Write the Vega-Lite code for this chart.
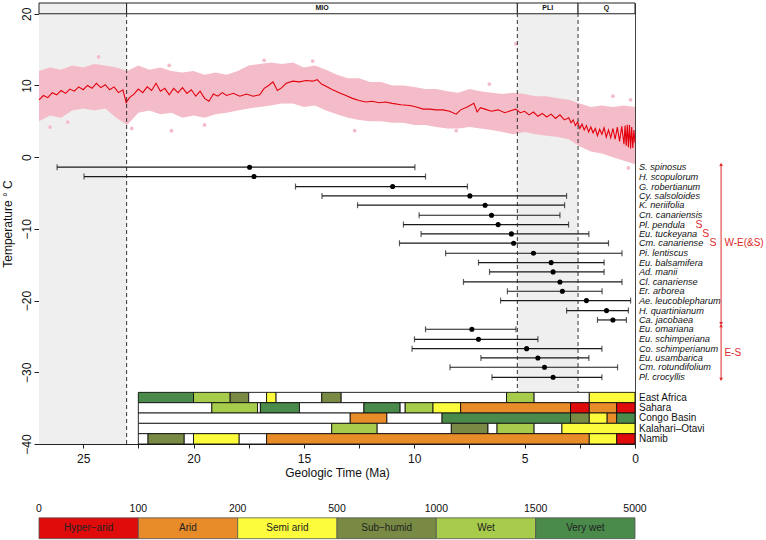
{
  "$schema": "https://vega.github.io/schema/vega-lite/v6.json",
  "padding": {"left": 1, "top": 2, "right": 0, "bottom": 2},
  "width": 596,
  "height": 441,
  "config": {
    "font": "Liberation Sans",
    "view": {"stroke": "#444"},
    "axis": {"grid": false, "labelOverlap": false}
  },
  "datasets": {
    "periods": [{"from": 27, "to": 23.03}, {"from": 5.33, "to": 2.58}],
    "header": [
      {"from": 27, "to": 23.03, "lab": "", "mid": 25.0, "shade": "g"},
      {"from": 23.03, "to": 5.33, "lab": "MIO", "mid": 14.18, "shade": "w"},
      {"from": 5.33, "to": 2.58, "lab": "PLI", "mid": 3.955, "shade": "w"},
      {"from": 2.58, "to": 0, "lab": "Q", "mid": 1.29, "shade": "w"}
    ],
    "epochb": [{"ma": 23.03}, {"ma": 5.33}, {"ma": 2.58}],
    "band": [
      {"ma": 27.0, "lo": 5.0, "hi": 12.0}, {"ma": 26.5, "lo": 5.8, "hi": 12.5}, {"ma": 26.0, "lo": 5.5, "hi": 12.2},
      {"ma": 25.5, "lo": 6.5, "hi": 12.8}, {"ma": 25.0, "lo": 6.8, "hi": 12.5}, {"ma": 24.5, "lo": 6.5, "hi": 13.0},
      {"ma": 24.0, "lo": 6.8, "hi": 12.8}, {"ma": 23.5, "lo": 5.5, "hi": 12.5}, {"ma": 23.0, "lo": 4.5, "hi": 12.0},
      {"ma": 22.5, "lo": 6.2, "hi": 12.8}, {"ma": 22.0, "lo": 6.5, "hi": 12.2}, {"ma": 21.5, "lo": 6.0, "hi": 12.5},
      {"ma": 21.0, "lo": 6.2, "hi": 12.0}, {"ma": 20.5, "lo": 5.5, "hi": 11.8}, {"ma": 20.0, "lo": 5.8, "hi": 12.0},
      {"ma": 19.5, "lo": 5.5, "hi": 11.5}, {"ma": 19.0, "lo": 6.0, "hi": 11.8}, {"ma": 18.5, "lo": 6.2, "hi": 11.5},
      {"ma": 18.0, "lo": 6.5, "hi": 12.0}, {"ma": 17.5, "lo": 6.8, "hi": 12.8}, {"ma": 17.0, "lo": 7.0, "hi": 13.0},
      {"ma": 16.5, "lo": 7.2, "hi": 13.2}, {"ma": 16.0, "lo": 7.5, "hi": 13.0}, {"ma": 15.5, "lo": 7.5, "hi": 13.2},
      {"ma": 15.0, "lo": 7.0, "hi": 12.5}, {"ma": 14.5, "lo": 7.2, "hi": 12.8}, {"ma": 14.0, "lo": 6.5, "hi": 12.2},
      {"ma": 13.5, "lo": 6.0, "hi": 11.5}, {"ma": 13.0, "lo": 5.5, "hi": 11.0}, {"ma": 12.5, "lo": 5.2, "hi": 11.0},
      {"ma": 12.0, "lo": 5.0, "hi": 10.5}, {"ma": 11.5, "lo": 5.0, "hi": 10.5}, {"ma": 11.0, "lo": 4.8, "hi": 10.0},
      {"ma": 10.5, "lo": 4.8, "hi": 10.0}, {"ma": 10.0, "lo": 4.5, "hi": 9.8}, {"ma": 9.5, "lo": 4.5, "hi": 9.5},
      {"ma": 9.0, "lo": 4.2, "hi": 9.5}, {"ma": 8.5, "lo": 4.0, "hi": 9.2}, {"ma": 8.0, "lo": 4.0, "hi": 9.0},
      {"ma": 7.5, "lo": 4.2, "hi": 9.5}, {"ma": 7.0, "lo": 4.0, "hi": 9.2}, {"ma": 6.5, "lo": 3.8, "hi": 9.0},
      {"ma": 6.0, "lo": 3.5, "hi": 8.8}, {"ma": 5.5, "lo": 3.2, "hi": 9.0}, {"ma": 5.0, "lo": 3.5, "hi": 8.8},
      {"ma": 4.5, "lo": 3.2, "hi": 8.5}, {"ma": 4.0, "lo": 3.0, "hi": 8.5}, {"ma": 3.5, "lo": 2.8, "hi": 8.2},
      {"ma": 3.0, "lo": 2.5, "hi": 8.0}, {"ma": 2.5, "lo": 1.5, "hi": 7.5}, {"ma": 2.0, "lo": 0.8, "hi": 7.0},
      {"ma": 1.5, "lo": 0.5, "hi": 7.2}, {"ma": 1.0, "lo": 0.0, "hi": 7.0}, {"ma": 0.5, "lo": -0.5, "hi": 7.2},
      {"ma": 0.0, "lo": -1.0, "hi": 7.0}
    ],
    "outliers": [
      {"ma": 24.3, "t": 14.0}, {"ma": 25.7, "t": 4.9}, {"ma": 21.1, "t": 12.8}, {"ma": 21.0, "t": 3.7},
      {"ma": 19.5, "t": 4.5}, {"ma": 14.6, "t": 13.4}, {"ma": 16.8, "t": 13.5}, {"ma": 12.7, "t": 3.7},
      {"ma": 8.1, "t": 3.7}, {"ma": 6.6, "t": 10.2}, {"ma": 5.4, "t": 15.8}, {"ma": 1.0, "t": 8.5},
      {"ma": 0.2, "t": 8.0}, {"ma": 0.3, "t": -1.5}, {"ma": 22.8, "t": 4.0}, {"ma": 26.5, "t": 4.2}
    ],
    "temp": [
      {"ma": 27.0, "t": 8.0}, {"ma": 26.8, "t": 8.6}, {"ma": 26.6, "t": 8.3}, {"ma": 26.4, "t": 9.0},
      {"ma": 26.2, "t": 8.7}, {"ma": 26.0, "t": 9.3}, {"ma": 25.8, "t": 8.9}, {"ma": 25.6, "t": 9.5},
      {"ma": 25.4, "t": 9.2}, {"ma": 25.2, "t": 9.8}, {"ma": 25.0, "t": 9.4}, {"ma": 24.8, "t": 10.0},
      {"ma": 24.6, "t": 9.6}, {"ma": 24.4, "t": 10.3}, {"ma": 24.2, "t": 9.7}, {"ma": 24.0, "t": 10.1},
      {"ma": 23.8, "t": 9.4}, {"ma": 23.6, "t": 9.8}, {"ma": 23.4, "t": 9.0}, {"ma": 23.2, "t": 9.4},
      {"ma": 23.05, "t": 7.6}, {"ma": 22.9, "t": 8.3}, {"ma": 22.7, "t": 8.8}, {"ma": 22.5, "t": 9.5},
      {"ma": 22.3, "t": 9.0}, {"ma": 22.1, "t": 9.8}, {"ma": 21.9, "t": 9.3}, {"ma": 21.7, "t": 10.3},
      {"ma": 21.5, "t": 9.2}, {"ma": 21.3, "t": 9.6}, {"ma": 21.1, "t": 8.7}, {"ma": 20.9, "t": 9.6},
      {"ma": 20.7, "t": 9.0}, {"ma": 20.5, "t": 9.7}, {"ma": 20.3, "t": 8.9}, {"ma": 20.1, "t": 9.4},
      {"ma": 19.9, "t": 8.5}, {"ma": 19.7, "t": 9.2}, {"ma": 19.5, "t": 8.2}, {"ma": 19.3, "t": 7.8},
      {"ma": 19.1, "t": 8.8}, {"ma": 18.9, "t": 8.5}, {"ma": 18.7, "t": 9.0}, {"ma": 18.5, "t": 8.6},
      {"ma": 18.2, "t": 8.9}, {"ma": 17.9, "t": 8.5}, {"ma": 17.6, "t": 8.8}, {"ma": 17.3, "t": 8.5},
      {"ma": 17.0, "t": 8.7}, {"ma": 16.8, "t": 9.6}, {"ma": 16.6, "t": 10.0}, {"ma": 16.4, "t": 10.5},
      {"ma": 16.2, "t": 9.3}, {"ma": 16.0, "t": 9.7}, {"ma": 15.8, "t": 10.3}, {"ma": 15.5, "t": 10.6},
      {"ma": 15.2, "t": 10.5}, {"ma": 14.9, "t": 10.7}, {"ma": 14.6, "t": 10.6}, {"ma": 14.4, "t": 10.8},
      {"ma": 14.2, "t": 10.2}, {"ma": 14.0, "t": 9.9}, {"ma": 13.7, "t": 9.4}, {"ma": 13.4, "t": 9.0},
      {"ma": 13.1, "t": 8.6}, {"ma": 12.8, "t": 8.2}, {"ma": 12.5, "t": 7.9}, {"ma": 12.2, "t": 7.7},
      {"ma": 11.9, "t": 7.8}, {"ma": 11.6, "t": 7.6}, {"ma": 11.3, "t": 7.7}, {"ma": 11.0, "t": 7.5},
      {"ma": 10.6, "t": 7.3}, {"ma": 10.2, "t": 7.2}, {"ma": 9.9, "t": 7.0}, {"ma": 9.6, "t": 6.7},
      {"ma": 9.3, "t": 6.7}, {"ma": 9.0, "t": 6.6}, {"ma": 8.7, "t": 6.6}, {"ma": 8.4, "t": 6.4},
      {"ma": 8.1, "t": 6.0}, {"ma": 7.9, "t": 6.6}, {"ma": 7.6, "t": 7.0}, {"ma": 7.3, "t": 7.5},
      {"ma": 7.15, "t": 6.3}, {"ma": 7.0, "t": 6.9}, {"ma": 6.8, "t": 6.7}, {"ma": 6.5, "t": 6.4},
      {"ma": 6.2, "t": 6.6}, {"ma": 5.9, "t": 6.2}, {"ma": 5.6, "t": 6.5}, {"ma": 5.4, "t": 6.7},
      {"ma": 5.2, "t": 6.2}, {"ma": 5.0, "t": 6.4}, {"ma": 4.8, "t": 5.9}, {"ma": 4.6, "t": 6.3},
      {"ma": 4.4, "t": 5.7}, {"ma": 4.2, "t": 6.1}, {"ma": 4.0, "t": 5.6}, {"ma": 3.8, "t": 6.0},
      {"ma": 3.6, "t": 5.4}, {"ma": 3.4, "t": 5.9}, {"ma": 3.2, "t": 5.2}, {"ma": 3.0, "t": 5.5},
      {"ma": 2.9, "t": 4.8}, {"ma": 2.8, "t": 5.2}, {"ma": 2.7, "t": 4.4}, {"ma": 2.6, "t": 4.9},
      {"ma": 2.5, "t": 4.0}, {"ma": 2.4, "t": 4.6}, {"ma": 2.3, "t": 3.8}, {"ma": 2.2, "t": 4.4},
      {"ma": 2.1, "t": 3.5}, {"ma": 2.0, "t": 4.2}, {"ma": 1.9, "t": 3.4}, {"ma": 1.8, "t": 4.0},
      {"ma": 1.7, "t": 3.0}, {"ma": 1.6, "t": 3.9}, {"ma": 1.5, "t": 3.2}, {"ma": 1.4, "t": 4.1},
      {"ma": 1.3, "t": 2.8}, {"ma": 1.2, "t": 3.8}, {"ma": 1.1, "t": 2.7}, {"ma": 1.0, "t": 4.0},
      {"ma": 0.9, "t": 2.5}, {"ma": 0.8, "t": 4.2}, {"ma": 0.7, "t": 2.2}, {"ma": 0.6, "t": 4.3},
      {"ma": 0.5, "t": 1.8}, {"ma": 0.45, "t": 4.4}, {"ma": 0.4, "t": 1.6}, {"ma": 0.35, "t": 4.5},
      {"ma": 0.3, "t": 1.4}, {"ma": 0.25, "t": 4.5}, {"ma": 0.2, "t": 1.2}, {"ma": 0.15, "t": 4.2},
      {"ma": 0.1, "t": 1.3}, {"ma": 0.05, "t": 3.8}, {"ma": 0.0, "t": 2.0}
    ],
    "species": [
      {"name": "S. spinosus", "t": -1.4, "lo": 26.18, "mid": 17.46, "hi": 9.97},
      {"name": "H. scopulorum", "t": -2.7, "lo": 24.96, "mid": 17.26, "hi": 9.49},
      {"name": "G. robertianum", "t": -4.1, "lo": 15.38, "mid": 10.98, "hi": 7.59},
      {"name": "Cy. salsoloides", "t": -5.4, "lo": 14.18, "mid": 7.48, "hi": 3.10},
      {"name": "K. neriifolia", "t": -6.7, "lo": 12.57, "mid": 6.79, "hi": 3.19},
      {"name": "Cn. canariensis", "t": -8.1, "lo": 9.78, "mid": 6.50, "hi": 3.40},
      {"name": "Pl. pendula", "t": -9.4, "lo": 10.49, "mid": 6.20, "hi": 3.01},
      {"name": "Eu. tuckeyana", "t": -10.7, "lo": 9.69, "mid": 5.60, "hi": 2.09},
      {"name": "Cm. canariense", "t": -12.0, "lo": 10.67, "mid": 5.50, "hi": 1.20},
      {"name": "Pi. lentiscus", "t": -13.4, "lo": 8.58, "mid": 4.60, "hi": 0.59},
      {"name": "Eu. balsamifera", "t": -14.7, "lo": 7.09, "mid": 3.80, "hi": 1.40},
      {"name": "Ad. manii", "t": -16.0, "lo": 6.59, "mid": 3.71, "hi": 1.40},
      {"name": "Cl. canariense", "t": -17.4, "lo": 7.77, "mid": 3.40, "hi": 0.59},
      {"name": "Er. arborea", "t": -18.7, "lo": 5.78, "mid": 3.29, "hi": 1.49},
      {"name": "Ae. leucoblepharum", "t": -20.0, "lo": 6.09, "mid": 2.20, "hi": 0.20},
      {"name": "H. quartinianum", "t": -21.4, "lo": 3.10, "mid": 1.29, "hi": 0.30},
      {"name": "Ca. jacobaea", "t": -22.7, "lo": 1.70, "mid": 1.00, "hi": 0.39},
      {"name": "Eu. omariana", "t": -24.0, "lo": 9.49, "mid": 7.39, "hi": 5.39},
      {"name": "Eu. schimperiana", "t": -25.4, "lo": 9.99, "mid": 7.09, "hi": 4.40},
      {"name": "Co. schimperianum", "t": -26.7, "lo": 10.10, "mid": 4.91, "hi": 1.50},
      {"name": "Eu. usambarica", "t": -28.0, "lo": 6.98, "mid": 4.40, "hi": 2.09},
      {"name": "Cm. rotundifolium", "t": -29.3, "lo": 8.38, "mid": 4.10, "hi": 0.79},
      {"name": "Pl. crocyllis", "t": -30.7, "lo": 6.48, "mid": 3.71, "hi": 1.50}
    ],
    "smarks": [
      {"t": -9.4, "xs": -2.9}, {"t": -10.7, "xs": -3.2}, {"t": -12.0, "xs": -3.53}
    ],
    "arrows": [
      {"a": -1.0, "b": -23.2, "lab": "W-E(&S)", "lt": -12.0},
      {"a": -23.5, "b": -31.0, "lab": "E-S", "lt": -27.3}
    ],
    "regions": [
      {"region": "East Africa", "mid": -33.52},
      {"region": "Sahara", "mid": -34.96},
      {"region": "Congo Basin", "mid": -36.4},
      {"region": "Kalahari–Otavi", "mid": -37.84},
      {"region": "Namib", "mid": -39.28}
    ],
    "climate": [
      {"region": "East Africa", "top": -32.8, "bot": -34.24, "from": 22.5, "to": 20.0, "cls": "Very wet"},
      {"region": "East Africa", "top": -32.8, "bot": -34.24, "from": 20.0, "to": 18.34, "cls": "Wet"},
      {"region": "East Africa", "top": -32.8, "bot": -34.24, "from": 18.34, "to": 17.5, "cls": "Sub\u2212humid"},
      {"region": "East Africa", "top": -32.8, "bot": -34.24, "from": 17.5, "to": 16.69, "cls": "None"},
      {"region": "East Africa", "top": -32.8, "bot": -34.24, "from": 16.69, "to": 16.26, "cls": "Semi arid"},
      {"region": "East Africa", "top": -32.8, "bot": -34.24, "from": 16.26, "to": 14.19, "cls": "None"},
      {"region": "East Africa", "top": -32.8, "bot": -34.24, "from": 14.19, "to": 13.31, "cls": "Sub\u2212humid"},
      {"region": "East Africa", "top": -32.8, "bot": -34.24, "from": 13.31, "to": 5.82, "cls": "None"},
      {"region": "East Africa", "top": -32.8, "bot": -34.24, "from": 5.82, "to": 4.57, "cls": "Wet"},
      {"region": "East Africa", "top": -32.8, "bot": -34.24, "from": 4.57, "to": 2.07, "cls": "None"},
      {"region": "East Africa", "top": -32.8, "bot": -34.24, "from": 2.07, "to": 0, "cls": "Semi arid"},
      {"region": "Sahara", "top": -34.24, "bot": -35.68, "from": 22.5, "to": 19.17, "cls": "None"},
      {"region": "Sahara", "top": -34.24, "bot": -35.68, "from": 19.17, "to": 17.1, "cls": "Wet"},
      {"region": "Sahara", "top": -34.24, "bot": -35.68, "from": 17.1, "to": 16.97, "cls": "None"},
      {"region": "Sahara", "top": -34.24, "bot": -35.68, "from": 16.97, "to": 15.2, "cls": "Very wet"},
      {"region": "Sahara", "top": -34.24, "bot": -35.68, "from": 15.2, "to": 12.28, "cls": "None"},
      {"region": "Sahara", "top": -34.24, "bot": -35.68, "from": 12.28, "to": 10.64, "cls": "Very wet"},
      {"region": "Sahara", "top": -34.24, "bot": -35.68, "from": 10.64, "to": 10.41, "cls": "None"},
      {"region": "Sahara", "top": -34.24, "bot": -35.68, "from": 10.41, "to": 9.15, "cls": "Wet"},
      {"region": "Sahara", "top": -34.24, "bot": -35.68, "from": 9.15, "to": 7.9, "cls": "Semi arid"},
      {"region": "Sahara", "top": -34.24, "bot": -35.68, "from": 7.9, "to": 2.92, "cls": "Arid"},
      {"region": "Sahara", "top": -34.24, "bot": -35.68, "from": 2.92, "to": 2.07, "cls": "Hyper\u2212arid"},
      {"region": "Sahara", "top": -34.24, "bot": -35.68, "from": 2.07, "to": 0.83, "cls": "Arid"},
      {"region": "Sahara", "top": -34.24, "bot": -35.68, "from": 0.83, "to": 0, "cls": "Hyper\u2212arid"},
      {"region": "Congo Basin", "top": -35.68, "bot": -37.12, "from": 22.5, "to": 12.9, "cls": "None"},
      {"region": "Congo Basin", "top": -35.68, "bot": -37.12, "from": 12.9, "to": 11.24, "cls": "Arid"},
      {"region": "Congo Basin", "top": -35.68, "bot": -37.12, "from": 11.24, "to": 8.74, "cls": "None"},
      {"region": "Congo Basin", "top": -35.68, "bot": -37.12, "from": 8.74, "to": 2.92, "cls": "Very wet"},
      {"region": "Congo Basin", "top": -35.68, "bot": -37.12, "from": 2.92, "to": 2.07, "cls": "Sub\u2212humid"},
      {"region": "Congo Basin", "top": -35.68, "bot": -37.12, "from": 2.07, "to": 1.26, "cls": "Semi arid"},
      {"region": "Congo Basin", "top": -35.68, "bot": -37.12, "from": 1.26, "to": 0.83, "cls": "Arid"},
      {"region": "Congo Basin", "top": -35.68, "bot": -37.12, "from": 0.83, "to": 0, "cls": "Very wet"},
      {"region": "Kalahari–Otavi", "top": -37.12, "bot": -38.56, "from": 22.5, "to": 13.74, "cls": "None"},
      {"region": "Kalahari–Otavi", "top": -37.12, "bot": -38.56, "from": 13.74, "to": 11.68, "cls": "Wet"},
      {"region": "Kalahari–Otavi", "top": -37.12, "bot": -38.56, "from": 11.68, "to": 8.32, "cls": "None"},
      {"region": "Kalahari–Otavi", "top": -37.12, "bot": -38.56, "from": 8.32, "to": 6.66, "cls": "Sub\u2212humid"},
      {"region": "Kalahari–Otavi", "top": -37.12, "bot": -38.56, "from": 6.66, "to": 6.25, "cls": "None"},
      {"region": "Kalahari–Otavi", "top": -37.12, "bot": -38.56, "from": 6.25, "to": 4.57, "cls": "Wet"},
      {"region": "Kalahari–Otavi", "top": -37.12, "bot": -38.56, "from": 4.57, "to": 3.31, "cls": "None"},
      {"region": "Kalahari–Otavi", "top": -37.12, "bot": -38.56, "from": 3.31, "to": 0, "cls": "Semi arid"},
      {"region": "Namib", "top": -38.56, "bot": -40, "from": 22.5, "to": 22.06, "cls": "None"},
      {"region": "Namib", "top": -38.56, "bot": -40, "from": 22.06, "to": 20.42, "cls": "Sub\u2212humid"},
      {"region": "Namib", "top": -38.56, "bot": -40, "from": 20.42, "to": 20.0, "cls": "None"},
      {"region": "Namib", "top": -38.56, "bot": -40, "from": 20.0, "to": 17.93, "cls": "Semi arid"},
      {"region": "Namib", "top": -38.56, "bot": -40, "from": 17.93, "to": 16.69, "cls": "None"},
      {"region": "Namib", "top": -38.56, "bot": -40, "from": 16.69, "to": 2.07, "cls": "Arid"},
      {"region": "Namib", "top": -38.56, "bot": -40, "from": 2.07, "to": 0.83, "cls": "Semi arid"},
      {"region": "Namib", "top": -38.56, "bot": -40, "from": 0.83, "to": 0, "cls": "Hyper\u2212arid"}
    ],
    "classes": [
      {"cls": "Hyper\u2212arid", "k": 0, "k1": 1, "mid": 0.5},
      {"cls": "Arid", "k": 1, "k1": 2, "mid": 1.5},
      {"cls": "Semi arid", "k": 2, "k1": 3, "mid": 2.5},
      {"cls": "Sub\u2212humid", "k": 3, "k1": 4, "mid": 3.5},
      {"cls": "Wet", "k": 4, "k1": 5, "mid": 4.5},
      {"cls": "Very wet", "k": 5, "k1": 6, "mid": 5.5}
    ],
    "cuts": [
      {"k": 0, "lab": "0"}, {"k": 1, "lab": "100"}, {"k": 2, "lab": "200"}, {"k": 3, "lab": "500"},
      {"k": 4, "lab": "1000"}, {"k": 5, "lab": "1500"}, {"k": 6, "lab": "5000"}
    ]
  },
  "resolve": {"scale": {"x": "independent"}, "axis": {"x": "independent"}},
  "layer": [
    {
      "layer": [
        {
          "data": {"name": "periods"},
          "mark": {"type": "rect", "color": "#efefef"},
          "encoding": {
            "x": {
              "field": "from", "type": "quantitative",
              "scale": {"domain": [0, 27], "reverse": true, "nice": false, "zero": false},
              "axis": {
                "title": "Geologic Time (Ma)",
                "values": [0, 2.5, 5, 7.5, 10, 12.5, 15, 17.5, 20, 22.5, 25],
                "labelExpr": "datum.value % 5 === 0 ? datum.label : ''",
                "tickSize": 4, "labelPadding": 5, "titlePadding": 3,
                "labelFontSize": 12, "titleFontSize": 12, "titleFontWeight": "normal",
                "labelColor": "#111", "titleColor": "#111", "domainColor": "#222", "tickColor": "#222",
                "labelFlush": false, "labelOverlap": false, "grid": false
              }
            },
            "x2": {"field": "to"},
            "y": {
              "datum": -40, "type": "quantitative",
              "scale": {"domain": [-40, 21.5], "nice": false, "zero": false},
              "axis": {
                "title": "Temperature ° C",
                "values": [-40, -30, -20, -10, 0, 10, 20],
                "labelAngle": -90, "labelAlign": "center", "labelBaseline": "bottom",
                "tickSize": 5, "labelPadding": 1, "titlePadding": 6,
                "labelFontSize": 12, "titleFontSize": 12, "titleFontWeight": "normal",
                "labelColor": "#111", "titleColor": "#111", "domainColor": "#222", "tickColor": "#222",
                "labelOverlap": false, "labelFlush": false, "grid": false
              }
            },
            "y2": {"datum": 20}
          }
        },
        {
          "data": {"name": "header"},
          "mark": {"type": "rect", "stroke": "#222", "strokeWidth": 1},
          "encoding": {
            "x": {"field": "from", "type": "quantitative"},
            "x2": {"field": "to"},
            "y": {"datum": 20, "type": "quantitative"},
            "y2": {"datum": 21.5},
            "fill": {"field": "shade", "type": "nominal", "scale": {"domain": ["g", "w"], "range": ["#efefef", "#ffffff"]}, "legend": null}
          }
        },
        {
          "data": {"name": "header"},
          "mark": {"type": "text", "fontSize": 7, "fontWeight": "bold", "color": "#111", "baseline": "middle"},
          "encoding": {
            "x": {"field": "mid", "type": "quantitative"},
            "y": {"datum": 20.75, "type": "quantitative"},
            "text": {"field": "lab"}
          }
        },
        {
          "data": {"name": "band"},
          "mark": {"type": "area", "color": "#f4bcc8", "interpolate": "linear"},
          "encoding": {
            "x": {"field": "ma", "type": "quantitative"},
            "y": {"field": "lo", "type": "quantitative"},
            "y2": {"field": "hi"}
          }
        },
        {
          "data": {"name": "outliers"},
          "mark": {"type": "point", "filled": true, "color": "#f4bcc8", "opacity": 1, "size": 14},
          "encoding": {
            "x": {"field": "ma", "type": "quantitative"},
            "y": {"field": "t", "type": "quantitative"}
          }
        },
        {
          "data": {"name": "temp"},
          "mark": {"type": "line", "color": "#e3000c", "strokeWidth": 1.1},
          "encoding": {
            "x": {"field": "ma", "type": "quantitative"},
            "y": {"field": "t", "type": "quantitative"}
          }
        },
        {
          "data": {"name": "epochb"},
          "mark": {"type": "rule", "color": "#333", "strokeDash": [4, 3], "strokeWidth": 1},
          "encoding": {
            "x": {"field": "ma", "type": "quantitative"},
            "y": {"datum": -40, "type": "quantitative"},
            "y2": {"datum": 20}
          }
        },
        {
          "data": {"name": "species"},
          "mark": {"type": "rule", "color": "#1a1a1a", "strokeWidth": 1.2},
          "encoding": {
            "x": {"field": "lo", "type": "quantitative"},
            "x2": {"field": "hi"},
            "y": {"field": "t", "type": "quantitative"}
          }
        },
        {
          "data": {"name": "species"},
          "mark": {"type": "tick", "orient": "vertical", "color": "#1a1a1a", "size": 6, "thickness": 1.2},
          "encoding": {
            "x": {"field": "lo", "type": "quantitative"},
            "y": {"field": "t", "type": "quantitative"}
          }
        },
        {
          "data": {"name": "species"},
          "mark": {"type": "tick", "orient": "vertical", "color": "#1a1a1a", "size": 6, "thickness": 1.2},
          "encoding": {
            "x": {"field": "hi", "type": "quantitative"},
            "y": {"field": "t", "type": "quantitative"}
          }
        },
        {
          "data": {"name": "species"},
          "mark": {"type": "point", "filled": true, "color": "#000", "opacity": 1, "size": 26},
          "encoding": {
            "x": {"field": "mid", "type": "quantitative"},
            "y": {"field": "t", "type": "quantitative"}
          }
        },
        {
          "data": {"name": "species"},
          "mark": {"type": "text", "align": "left", "baseline": "middle", "fontStyle": "italic", "fontSize": 9.2, "color": "#111"},
          "encoding": {
            "x": {"datum": -0.18, "type": "quantitative"},
            "y": {"field": "t", "type": "quantitative"},
            "text": {"field": "name"}
          }
        },
        {
          "data": {"name": "smarks"},
          "mark": {"type": "text", "align": "center", "baseline": "middle", "fontSize": 10.5, "color": "#dd2a2a", "text": "S"},
          "encoding": {
            "x": {"field": "xs", "type": "quantitative"},
            "y": {"field": "t", "type": "quantitative"}
          }
        },
        {
          "data": {"name": "arrows"},
          "mark": {"type": "rule", "color": "#dd2a2a", "strokeWidth": 1},
          "encoding": {
            "x": {"datum": -3.9, "type": "quantitative"},
            "y": {"field": "a", "type": "quantitative"},
            "y2": {"field": "b"}
          }
        },
        {
          "data": {"name": "arrows"},
          "mark": {"type": "point", "shape": "triangle-up", "filled": true, "color": "#dd2a2a", "opacity": 1, "size": 14},
          "encoding": {
            "x": {"datum": -3.9, "type": "quantitative"},
            "y": {"field": "a", "type": "quantitative"}
          }
        },
        {
          "data": {"name": "arrows"},
          "mark": {"type": "point", "shape": "triangle-down", "filled": true, "color": "#dd2a2a", "opacity": 1, "size": 14},
          "encoding": {
            "x": {"datum": -3.9, "type": "quantitative"},
            "y": {"field": "b", "type": "quantitative"}
          }
        },
        {
          "data": {"name": "arrows"},
          "mark": {"type": "text", "align": "left", "baseline": "middle", "fontSize": 10, "color": "#dd2a2a"},
          "encoding": {
            "x": {"datum": -4.05, "type": "quantitative"},
            "y": {"field": "lt", "type": "quantitative"},
            "text": {"field": "lab"}
          }
        },
        {
          "data": {"name": "climate"},
          "mark": {"type": "rect", "stroke": "#111", "strokeWidth": 0.9},
          "encoding": {
            "x": {"field": "from", "type": "quantitative"},
            "x2": {"field": "to"},
            "y": {"field": "top", "type": "quantitative"},
            "y2": {"field": "bot"},
            "color": {
              "field": "cls", "type": "nominal", "legend": null,
              "scale": {
                "domain": ["Hyper\u2212arid", "Arid", "Semi arid", "Sub\u2212humid", "Wet", "Very wet", "None"],
                "range": ["#e00b0b", "#e88b29", "#fcfc3c", "#788a43", "#a7cc4b", "#4a8a4b", "#ffffff"]
              }
            }
          }
        },
        {
          "data": {"name": "regions"},
          "mark": {"type": "text", "align": "left", "baseline": "middle", "fontSize": 10, "color": "#111"},
          "encoding": {
            "x": {"datum": -0.18, "type": "quantitative"},
            "y": {"field": "mid", "type": "quantitative"},
            "text": {"field": "region"}
          }
        }
      ]
    },
    {
      "layer": [
        {
          "data": {"name": "classes"},
          "mark": {"type": "rect", "stroke": "#555", "strokeWidth": 0.8},
          "encoding": {
            "x": {"field": "k", "type": "quantitative", "scale": {"domain": [0, 6], "nice": false, "zero": false}, "axis": null},
            "x2": {"field": "k1"},
            "y": {"datum": -50.3, "type": "quantitative"},
            "y2": {"datum": -53.2},
            "color": {"field": "cls", "type": "nominal", "legend": null}
          }
        },
        {
          "data": {"name": "classes"},
          "mark": {"type": "text", "fontSize": 10, "color": "#222", "baseline": "middle"},
          "encoding": {
            "x": {"field": "mid", "type": "quantitative", "axis": null},
            "y": {"datum": -51.75, "type": "quantitative"},
            "text": {"field": "cls"}
          }
        },
        {
          "data": {"name": "cuts"},
          "mark": {"type": "text", "fontSize": 10.5, "color": "#111", "baseline": "middle"},
          "encoding": {
            "x": {"field": "k", "type": "quantitative", "axis": null},
            "y": {"datum": -49.0, "type": "quantitative"},
            "text": {"field": "lab"}
          }
        }
      ]
    }
  ]
}
